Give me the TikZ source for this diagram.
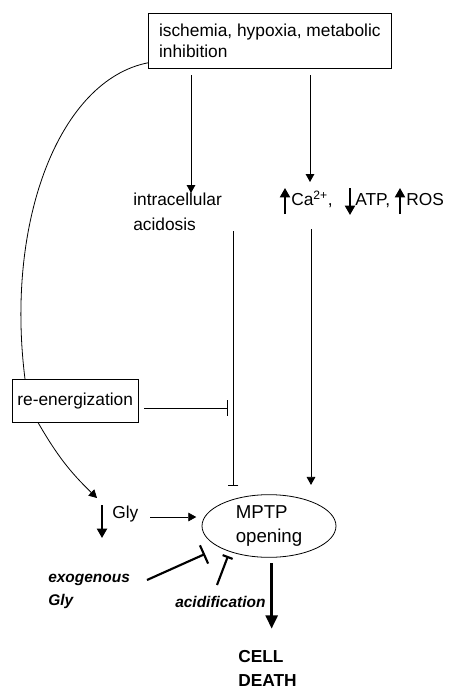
\documentclass[tikz,border=0pt]{standalone}
\usepackage{fontspec}
\setmainfont{Liberation Sans}
\usetikzlibrary{arrows.meta,shapes.geometric,positioning}
\tikzset{
  txt/.style={font=\fontsize{13}{18.75}\selectfont, inner sep=0pt, align=left},
  boxed/.style={txt, draw, line width=0.6pt},
  boldtxt/.style={font=\fontsize{13}{18}\selectfont\bfseries, inner sep=0pt, align=left},
  slanttxt/.style={font=\fontsize{11.6}{17.25}\selectfont\bfseries\itshape, inner sep=0pt, align=left},
  link/.style={line width=0.6pt, -{Triangle[length=6pt,width=6.5pt]}},
  block/.style={line width=0.6pt, -{Bar[width=8pt]}},
  updown/.style={line width=1.5pt, -{Triangle[length=7pt,width=7.5pt]}},
  heavy/.style={line width=2pt, -{Triangle[length=10pt,width=9pt]}},
  heavyblock/.style={line width=1.6pt, -{Bar[width=15pt]}},
}
\begin{document}
\begin{tikzpicture}[x=0.75pt,y=-0.75pt]
\useasboundingbox (0,0) rectangle (454,690);
% boxes and labels
\node[boxed, font=\fontsize{13}{16.2}\selectfont, anchor=north west, inner xsep=8pt, inner ysep=0pt, minimum height=41.25pt] (insult) at (148,13) {ischemia, hypoxia, metabolic\\inhibition};
\node[txt, anchor=north west] (acid) at (133,193) {intracellular\\acidosis};
\node[txt, anchor=base west] (ca) at (291,205) {Ca\textsuperscript{2+},};
\node[txt, anchor=base west] (atp) at (355,205) {ATP,};
\node[txt, anchor=base west] (ros) at (406,205) {ROS};
\node[boxed, anchor=north west, inner xsep=3.75pt, inner ysep=6pt, minimum height=32pt] (reen) at (12,379) {re-energization};
\node[txt, anchor=base west] (gly) at (112,518) {Gly};
\node[txt, font=\fontsize{14}{18}\selectfont, draw, ellipse, line width=0.6pt, minimum width=100.5pt, minimum height=47pt, inner sep=0pt] (mptp) at (269,526) {MPTP\\opening};
\node[slanttxt, anchor=base west] (exo) at (48,605) {exogenous\\Gly};
\node[slanttxt, anchor=base west] (acidif) at (175,607) {acidification};
\node[boldtxt, anchor=north west] (death) at (238,650) {CELL\\DEATH};
% free ends
\coordinate (catop) at (310,182);
\coordinate (cabot) at (311,229);
\coordinate (glytip) at (97,498);
\coordinate (glyout) at (150,517);
\coordinate (exostart) at (147,580);
\coordinate (exoend) at (205,554);
\coordinate (acidstart) at (217,585);
\coordinate (acidend) at (228,556);
% up/down marks
\draw[updown] (285,214) -- (285,188);
\draw[updown] (350,188) -- (350,215);
\draw[updown] (400,214) -- (400,188);
\draw[updown] (102,505) -- (102,538);
% connectors
\draw[link, shorten <=5pt] (insult.south -| 191,0) -- (acid.north -| 191,0);
\draw[link, shorten <=5pt] (insult.south -| 310,0) -- (catop);
\draw[line width=0.6pt] ([yshift=4.5pt]insult.south west) .. controls (60,80) and (5,220) .. (reen.north -| 25,0);
\draw[block] (acid.south -| 233,0) -- ([yshift=6.5pt]mptp.north -| 233,0);
\draw[link] (cabot) -- ([yshift=7pt]mptp.north -| cabot);
\draw[block, -{Bar[width=12pt]}] ([xshift=4.5pt,yshift=-5.5pt]reen.east) -- ++(83,0);
\draw[link] (reen.south -| 38,0) to[bend right=8] (glytip);
\draw[link] (glyout) -- ([xshift=-4pt]mptp.west |- glyout);
\draw[heavyblock] (exostart) -- (exoend);
\draw[heavyblock, -{Bar[width=8pt]}] (acidstart) -- (acidend);
\draw[heavy, shorten <=4pt, shorten >=16pt] ([xshift=2pt]mptp.south) -- ([xshift=2pt]mptp.south |- death.north);
\end{tikzpicture}
\end{document}
